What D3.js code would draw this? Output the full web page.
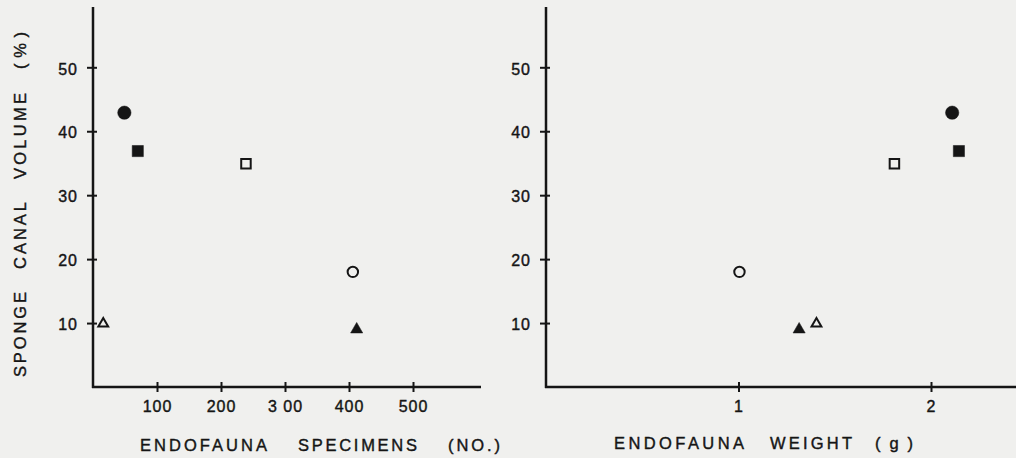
<!DOCTYPE html>
<html>
<head>
<meta charset="utf-8">
<script src="https://cdn.jsdelivr.net/npm/d3@7"></script>
<style>
  html, body { margin: 0; padding: 0; background: #f0f0ee; }
  svg { display: block; }
  text { font-family: "Liberation Sans", Arial, Helvetica, sans-serif; fill: #151515; stroke: #151515; stroke-width: 0.4px; }
</style>
</head>
<body>
<svg id="chart" width="1016" height="458"></svg>
<script>
// ---- data ----
const symbolTypes   = ["circle", "square", "square", "circle", "triangle", "triangle"];
const symbolFilled  = [true, true, false, false, true, false];
const canalVolume   = [42.9, 36.9, 34.9, 18.0, 9.0, 9.9];      // sponge canal volume (%)
const specimens     = [49, 70, 239, 406, 412, 16];              // endofauna specimens (no.)
const weight        = [2.11, 2.145, 1.81, 1.005, 1.315, 1.405]; // endofauna weight (g)
const yTicks        = [10, 20, 30, 40, 50];
const xTicksLeft    = [100, 200, 300, 400, 500];
const xTicksRight   = [1, 2];
const yLabelWords      = ["SPONGE", "CANAL", "VOLUME", "(%)"];
const xLabelLeftWords  = ["ENDOFAUNA", "SPECIMENS", "(NO.)"];
const xLabelRightWords = ["ENDOFAUNA", "WEIGHT", "(g)"];

const svg = d3.select("#chart");
const ink = "#151515";

const y = d3.scaleLinear().domain([0, 50]).range([387, 67.3]);
const yTop = 7;

// word layout: [start, length] along the label's reading direction
const panels = [
  { x: d3.scaleLinear().domain([0, 100]).range([93, 157]), xv: specimens, ticks: xTicksLeft,
    axisEnd: 481, words: xLabelLeftWords, wordPos: [[140, 127], [298, 119], [448, 52]], labelY: 450.5,
    tickFmt: d => d === 300 ? "3 00" : String(d) },
  { x: d3.scaleLinear().domain([0, 1]).range([546, 738.5]), xv: weight, ticks: xTicksRight,
    axisEnd: 1016, words: xLabelRightWords, wordPos: [[614, 130], [770, 82], [875, 38]], labelY: 449.3,
    tickFmt: d => String(d) }
];

const symbolMap = { circle: d3.symbolCircle, square: d3.symbolSquare, triangle: d3.symbolTriangle };
const symbolSize = { circle: [140, 85], square: [125, 90], triangle: [64, 42] }; // [filled, open]

panels.forEach(p => {
  const x0 = p.x(0);
  const g = svg.append("g");

  // axes lines
  g.append("line").attr("x1", x0).attr("x2", x0).attr("y1", yTop).attr("y2", y(0) + 1)
    .attr("stroke", ink).attr("stroke-width", 2.5);
  g.append("line").attr("x1", x0 - 1).attr("x2", p.axisEnd).attr("y1", y(0)).attr("y2", y(0))
    .attr("stroke", ink).attr("stroke-width", 2.5);

  // y axis ticks (crossing the axis)
  const ya = d3.axisLeft(y).tickValues(yTicks).tickSize(6).tickPadding(9);
  const gy = g.append("g").attr("transform", `translate(${x0},0)`).call(ya);
  gy.select(".domain").remove();
  gy.selectAll(".tick line").attr("x1", 4).attr("stroke", ink).attr("stroke-width", 2);
  gy.selectAll(".tick text").attr("font-size", 16).attr("dy", "0.42em").attr("fill", ink)
    .attr("letter-spacing", 1).attr("font-family", "Liberation Sans, Arial, sans-serif");

  // x axis ticks (crossing the axis)
  const xa = d3.axisBottom(p.x).tickValues(p.ticks).tickSize(5).tickPadding(9).tickFormat(p.tickFmt);
  const gx = g.append("g").attr("transform", `translate(0,${y(0)})`).call(xa);
  gx.select(".domain").remove();
  gx.selectAll(".tick line").attr("y1", -5).attr("stroke", ink).attr("stroke-width", 2);
  gx.selectAll(".tick text").attr("font-size", 16).attr("fill", ink).attr("letter-spacing", 1)
    .attr("font-family", "Liberation Sans, Arial, sans-serif").style("white-space", "pre");

  // x label, word by word
  g.selectAll("text.xl").data(p.words).join("text").attr("class", "xl")
    .attr("x", (d, i) => p.wordPos[i][0]).attr("y", p.labelY)
    .attr("font-size", 16.5)
    .attr("textLength", (d, i) => p.wordPos[i][1]).attr("lengthAdjust", "spacing")
    .text(d => d);

  // points
  const pts = symbolTypes.map((t, i) => ({ t, f: symbolFilled[i], xv: p.xv[i], yv: canalVolume[i] }));
  g.selectAll("path.pt").data(pts).join("path").attr("class", "pt")
    .attr("transform", d => `translate(${p.x(d.xv)},${y(d.yv)})`)
    .attr("d", d => d3.symbol().type(symbolMap[d.t]).size(symbolSize[d.t][d.f ? 0 : 1])())
    .attr("fill", d => d.f ? ink : "none")
    .attr("stroke", ink)
    .attr("stroke-width", d => d.f ? 0.5 : 2);
});

// y label (rotated, word by word; positions measured from the bottom)
const yWordPos = [[0, 85], [108, 67], [198, 86], [308, 37]];
const gyl = svg.append("g").attr("transform", "translate(25.5,377) rotate(-90)");
gyl.selectAll("text").data(yLabelWords).join("text")
  .attr("x", (d, i) => yWordPos[i][0]).attr("y", 0)
  .attr("font-size", 16.5)
  .attr("textLength", (d, i) => yWordPos[i][1]).attr("lengthAdjust", "spacing")
  .text(d => d);
</script>
</body>
</html>
